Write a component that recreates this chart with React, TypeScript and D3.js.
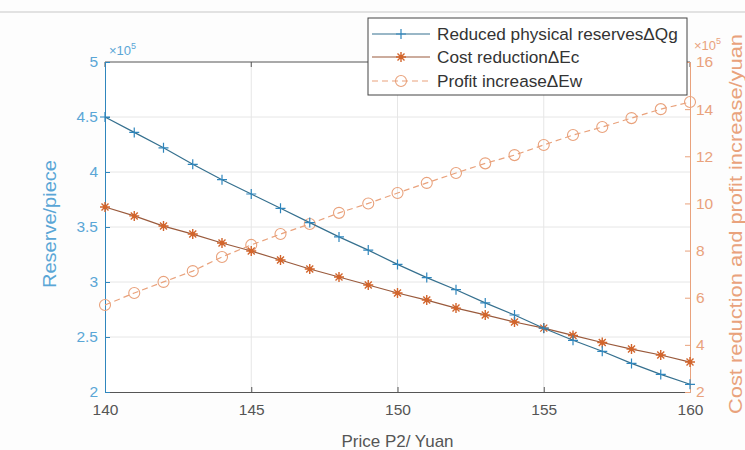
import React, { useEffect, useRef } from 'react';
import * as d3 from 'd3';

const prices = [140, 141, 142, 143, 144, 145, 146, 147, 148, 149, 150, 151, 152, 153, 154, 155, 156, 157, 158, 159, 160];
// reserves, x10^5 pieces (left axis)
const reserves = [4.5, 4.36, 4.22, 4.07, 3.93, 3.8, 3.67, 3.54, 3.41, 3.29, 3.16, 3.04, 2.93, 2.81, 2.7, 2.58, 2.47, 2.37, 2.26, 2.16, 2.07];
// cost reduction, x10^5 yuan (right axis)
const costReduction = [9.85, 9.47, 9.04, 8.7, 8.32, 7.98, 7.6, 7.22, 6.88, 6.54, 6.2, 5.9, 5.56, 5.27, 4.97, 4.71, 4.4, 4.1, 3.82, 3.57, 3.27];
// profit increase, x10^5 yuan (right axis)
const profitIncrease = [5.69, 6.2, 6.67, 7.13, 7.73, 8.24, 8.7, 9.13, 9.6, 10.0, 10.44, 10.87, 11.29, 11.7, 12.05, 12.48, 12.9, 13.24, 13.62, 14.0, 14.3];

const xTicks = [140, 145, 150, 155, 160];
const leftTicks = [2, 2.5, 3, 3.5, 4, 4.5, 5];
const rightTicks = [2, 4, 6, 8, 10, 12, 14, 16];
const legendLabels = ['Reduced physical reservesΔQg', 'Cost reductionΔEc', 'Profit increaseΔEw'];

const BLUE = '#2f86bd';
const BLUE_TXT = '#5aa6d6';
const ORANGE = '#d2652c';
const ORANGE_TXT = '#e9a27c';
const FONT = '"Liberation Sans", Arial, sans-serif';

export default function App() {
  const svgRef = useRef<SVGSVGElement>(null);

  useEffect(() => {
    if (!svgRef.current) return;
    const svg = d3.select(svgRef.current);
    svg.selectAll('*').remove();

    const left = 105, right = 690, top = 62, bottom = 392;

    const x = d3.scaleLinear().domain([140, 160]).range([left, right]);
    const yL = d3.scaleLinear().domain([2, 5]).range([bottom, top]);
    const yR = d3.scaleLinear().domain([2, 16]).range([bottom, top]);

    svg.append('rect').attr('width', 745).attr('height', 450).attr('fill', '#fdfdfd');
    svg.append('line').attr('x1', 0).attr('x2', 745).attr('y1', 12).attr('y2', 12)
      .attr('stroke', '#e2e2e2').attr('stroke-width', 2);
    svg.append('rect').attr('x', left).attr('y', top).attr('width', right - left).attr('height', bottom - top)
      .attr('fill', '#fff');

    // grid
    const grid = svg.append('g').attr('stroke', '#e6e6e6').attr('stroke-width', 1);
    xTicks.slice(1, -1).forEach(t => {
      grid.append('line').attr('x1', x(t)).attr('x2', x(t)).attr('y1', top).attr('y2', bottom);
    });
    leftTicks.slice(1, -1).forEach(t => {
      grid.append('line').attr('x1', left).attr('x2', right).attr('y1', yL(t)).attr('y2', yL(t));
    });

    // x axis + top border
    const gx = svg.append('g').attr('transform', `translate(0,${bottom})`)
      .call(d3.axisBottom(x).tickValues(xTicks).tickSizeInner(-5).tickSizeOuter(0).tickPadding(12));
    gx.select('.domain').attr('stroke', '#555');
    gx.selectAll('.tick line').attr('stroke', '#555');
    gx.selectAll('.tick text').attr('fill', '#555').style('font', `15.5px ${FONT}`);

    svg.append('line').attr('x1', left).attr('x2', right).attr('y1', top).attr('y2', top).attr('stroke', '#555');
    xTicks.forEach(t => {
      svg.append('line').attr('x1', x(t)).attr('x2', x(t)).attr('y1', top).attr('y2', top + 5).attr('stroke', '#555');
    });

    // left axis
    const gl = svg.append('g').attr('transform', `translate(${left},0)`)
      .call(d3.axisLeft(yL).tickValues(leftTicks).tickSizeInner(-5).tickSizeOuter(0).tickPadding(7)
        .tickFormat(d => String(d)));
    gl.select('.domain').attr('stroke', BLUE);
    gl.selectAll('.tick line').attr('stroke', BLUE);
    gl.selectAll('.tick text').attr('fill', BLUE_TXT).style('font', `15.5px ${FONT}`);

    // right axis
    const gr = svg.append('g').attr('transform', `translate(${right},0)`)
      .call(d3.axisRight(yR).tickValues(rightTicks).tickSizeInner(-5).tickSizeOuter(0).tickPadding(6));
    gr.select('.domain').attr('stroke', ORANGE_TXT);
    gr.selectAll('.tick line').attr('stroke', ORANGE_TXT);
    gr.selectAll('.tick text').attr('fill', ORANGE_TXT).style('font', `15.5px ${FONT}`);

    // exponents
    const expL = svg.append('text').attr('x', 109).attr('y', 55).attr('fill', BLUE_TXT)
      .style('font', `13px ${FONT}`);
    expL.append('tspan').text('×10');
    expL.append('tspan').attr('dy', -6).style('font-size', '9px').text('5');
    const expR = svg.append('text').attr('x', 694).attr('y', 50).attr('fill', ORANGE_TXT)
      .style('font', `13px ${FONT}`);
    expR.append('tspan').text('×10');
    expR.append('tspan').attr('dy', -6).style('font-size', '9px').text('5');

    // axis titles
    svg.append('text').attr('x', (left + right) / 2).attr('y', 447).attr('text-anchor', 'middle')
      .attr('fill', '#555').style('font', `17px ${FONT}`).text('Price P2/ Yuan');
    svg.append('text').attr('transform', `translate(56,224) rotate(-90)`)
      .attr('text-anchor', 'middle').attr('fill', BLUE_TXT).style('font', `18px ${FONT}`)
      .attr('textLength', 128).attr('lengthAdjust', 'spacingAndGlyphs').text('Reserve/piece');
    svg.append('text').attr('transform', `translate(742,224) rotate(-90)`)
      .attr('text-anchor', 'middle').attr('fill', ORANGE_TXT).style('font', `18px ${FONT}`)
      .attr('textLength', 380).attr('lengthAdjust', 'spacingAndGlyphs')
      .text('Cost reduction and profit increase/yuan');

    // series
    const line = d3.line<[number, number]>().x(d => d[0]).y(d => d[1]);
    const ptsBlue = prices.map((p, i) => [x(p), yL(reserves[i])] as [number, number]);
    const ptsCost = prices.map((p, i) => [x(p), yR(costReduction[i])] as [number, number]);
    const ptsProfit = prices.map((p, i) => [x(p), yR(profitIncrease[i])] as [number, number]);

    const plus = (g: any, cx: number, cy: number, color: string) => {
      g.append('path').attr('d', `M${cx - 5},${cy}H${cx + 5}M${cx},${cy - 5}V${cy + 5}`)
        .attr('stroke', color).attr('stroke-width', 1.2);
    };
    const star = (g: any, cx: number, cy: number, color: string) => {
      g.append('path')
        .attr('d', `M${cx - 5},${cy}H${cx + 5}M${cx},${cy - 5}V${cy + 5}M${cx - 3.5},${cy - 3.5}L${cx + 3.5},${cy + 3.5}M${cx - 3.5},${cy + 3.5}L${cx + 3.5},${cy - 3.5}`)
        .attr('stroke', color).attr('stroke-width', 1.4);
      g.append('circle').attr('cx', cx).attr('cy', cy).attr('r', 2.2).attr('fill', color);
    };
    const circ = (g: any, cx: number, cy: number, color: string) => {
      g.append('circle').attr('cx', cx).attr('cy', cy).attr('r', 5.5).attr('fill', 'none')
        .attr('stroke', color).attr('stroke-width', 1.1);
    };

    const series = svg.append('g');
    series.append('path').attr('d', line(ptsProfit)).attr('fill', 'none').attr('stroke', ORANGE_TXT)
      .attr('stroke-width', 1.2).attr('stroke-dasharray', '6,4');
    ptsProfit.forEach(p => circ(series, p[0], p[1], ORANGE_TXT));
    series.append('path').attr('d', line(ptsCost)).attr('fill', 'none').attr('stroke', '#9a5a3c').attr('stroke-width', 1.2);
    ptsCost.forEach(p => star(series, p[0], p[1], ORANGE));
    series.append('path').attr('d', line(ptsBlue)).attr('fill', 'none').attr('stroke', '#35708f').attr('stroke-width', 1.2);
    ptsBlue.forEach(p => plus(series, p[0], p[1], BLUE));

    // legend
    const lg = svg.append('g');
    lg.append('rect').attr('x', 368).attr('y', 18).attr('width', 319).attr('height', 77)
      .attr('fill', '#fff').attr('stroke', '#444').attr('stroke-width', 1);
    const rowsY = [34, 57, 81];
    const mk = [plus, star, circ];
    const cols = [BLUE, ORANGE, ORANGE_TXT];
    const lineCols = ['#35708f', '#9a5a3c', ORANGE_TXT];
    legendLabels.forEach((lab, i) => {
      lg.append('line').attr('x1', 372).attr('x2', 430).attr('y1', rowsY[i]).attr('y2', rowsY[i])
        .attr('stroke', lineCols[i]).attr('stroke-width', 1.2)
        .attr('stroke-dasharray', i === 2 ? '6,4' : null);
      mk[i](lg, 401, rowsY[i], cols[i]);
      lg.append('text').attr('x', 437).attr('y', rowsY[i] + 6).attr('fill', '#333')
        .style('font', `17.2px ${FONT}`).text(lab);
    });
  }, []);

  return (
    <svg ref={svgRef} width={745} height={450}
      style={{ position: 'absolute', left: 0, top: 0, display: 'block' }} />
  );
}
